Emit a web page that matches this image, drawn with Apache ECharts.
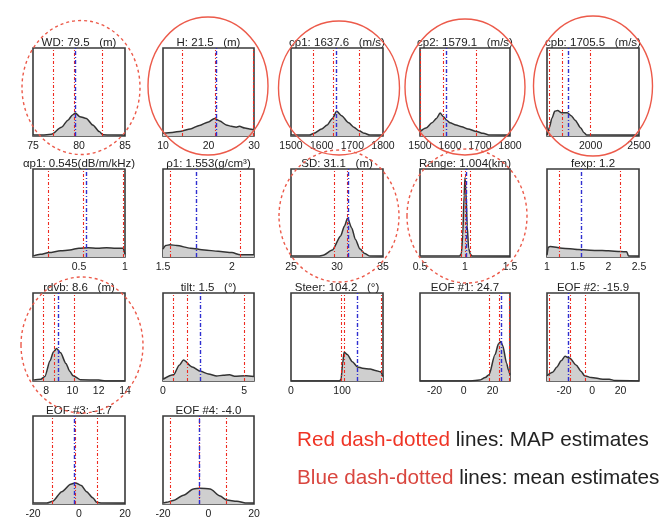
<!DOCTYPE html>
<html>
<head>
<meta charset="utf-8">
<script src="https://cdn.jsdelivr.net/npm/echarts@6/dist/echarts.min.js"></script>
<style>
  html, body { margin: 0; padding: 0; background: #fff; }
  #chart { width: 663px; height: 523px; }
</style>
</head>
<body>
<div id="chart"></div>
<script>
// ---- posterior marginals: titles, axis ranges, tick labels ----
const titles = [
  'WD: 79.5   (m)', 'H: 21.5   (m)', 'cp1: 1637.6   (m/s)', 'cp2: 1579.1   (m/s)', 'cpb: 1705.5   (m/s)',
  'αp1: 0.545(dB/m/kHz)', 'ρ1: 1.553(g/cm³)', 'SD: 31.1   (m)', 'Range: 1.004(km)', 'fexp: 1.2',
  'rdvb: 8.6   (m)', 'tilt: 1.5   (°)', 'Steer: 104.2   (°)', 'EOF #1: 24.7', 'EOF #2: -15.9',
  'EOF #3: -1.7', 'EOF #4: -4.0'
];
const xMin = [75, 10, 1500, 1500, 1550, 0, 1.5, 25, 0.5, 1, 7, 0, 0, -30, -32, -20, -20];
const xMax = [85, 30, 1800, 1800, 2500, 1, 2.16, 35, 1.5, 2.5, 14, 5.6, 180, 32, 33, 20, 20];
const tickValues = [
  [75, 80, 85], [10, 20, 30], [1500, 1600, 1700, 1800], [1500, 1600, 1700, 1800], [2000, 2500],
  [0.5, 1], [1.5, 2], [25, 30, 35], [0.5, 1, 1.5], [1, 1.5, 2, 2.5],
  [8, 10, 12, 14], [0, 5], [0, 100], [-20, 0, 20], [-20, 0, 20],
  [-20, 0, 20], [-20, 0, 20]
];

// MAP estimate and interval bounds (red) and posterior means (blue)
const mapLines = [
  [77.2, 79.5, 82.5], [14.2, 21.5, 29.9], [1571, 1637.6, 1722], [1501, 1579.1, 1689], [1575, 1705.5, 2000],
  [0.175, 0.545, 0.985], [1.553, 2.063], [29.7, 31.1, 32.7], [0.96, 1.004, 1.06], [1.2, 2.2],
  [7.8, 8.6, 10.15], [0.6, 1.5, 5.0], [99, 104.2, 176], [17.5, 24.7, 31.8], [-30.3, -15.9, -4.7],
  [-11.5, -1.7, 8], [-16.6, -4.0, 7.7]
];
const meanLines = [79.6, 21.6, 1649, 1589, 1770, 0.58, 1.738, 31.2, 1.006, 1.56, 8.9, 2.3, 130.5, 25.8, -16.7, -1.9, -4.2];

// ---- marginal densities [value, density] ----
const wdDensity = [[75,0.01],[76,0.01],[77,0.02],[78.1,0.1],[78.8,0.18],[79.3,0.24],[79.6,0.26],[80.1,0.22],[80.8,0.2],[81.5,0.125],[82.2,0.05],[82.6,0.015],[83.5,0.01],[85,0.01]];
const hDensity = [[10,0.03],[12,0.04],[14,0.055],[16,0.08],[18,0.12],[20,0.16],[21.3,0.2],[22.5,0.17],[23.9,0.125],[25,0.11],[26.1,0.1],[26.8,0.11],[28,0.09],[29,0.08],[30,0.07]];
const cp1Density = [[1500,0.01],[1560,0.01],[1575,0.03],[1600,0.08],[1618,0.125],[1635,0.2],[1649,0.28],[1665,0.23],[1688,0.15],[1705,0.1],[1722,0.06],[1740,0.03],[1757,0.01],[1800,0.01]];
const cp2Density = [[1500,0.05],[1520,0.09],[1540,0.15],[1555,0.2],[1567,0.26],[1578,0.22],[1589,0.18],[1600,0.15],[1620,0.125],[1639,0.105],[1660,0.08],[1689,0.05],[1710,0.03],[1733,0.01],[1800,0.01]];
const cpbDensity = [[1552,0.01],[1575,0.1],[1600,0.2],[1630,0.28],[1660,0.29],[1700,0.265],[1760,0.265],[1800,0.23],[1840,0.18],[1900,0.09],[1930,0.04],[1960,0.01],[2500,0.01]];
const alphaDensity = [[0,0.01],[0.08,0.03],[0.175,0.05],[0.3,0.07],[0.4,0.08],[0.5,0.1],[0.6,0.105],[0.7,0.1],[0.8,0.105],[0.9,0.1],[0.98,0.1],[1,0.03]];
const rhoDensity = [[1.5,0.09],[1.52,0.13],[1.55,0.14],[1.6,0.13],[1.7,0.1],[1.8,0.08],[1.9,0.065],[2.0,0.05],[2.06,0.025],[2.16,0.025]];
const sdDensity = [[25,0.01],[28,0.01],[28.5,0.02],[29.5,0.08],[30.4,0.24],[30.8,0.35],[31.15,0.44],[31.6,0.33],[32,0.2],[32.5,0.09],[33,0.04],[33.6,0.01],[35,0.01]];
const rangeDensity = [[0.5,0.01],[0.94,0.01],[0.96,0.04],[0.975,0.25],[0.99,0.7],[1.0,0.9],[1.01,0.75],[1.025,0.35],[1.04,0.1],[1.06,0.03],[1.08,0.01],[1.5,0.01]];
const fexpDensity = [[1,0.02],[1.02,0.11],[1.05,0.12],[1.25,0.1],[1.5,0.085],[1.8,0.075],[2.0,0.07],[2.2,0.062],[2.3,0.06],[2.33,0.01],[2.5,0.01]];
const rdvbDensity = [[7,0.01],[7.6,0.02],[7.9,0.05],[8.3,0.23],[8.55,0.33],[8.8,0.37],[9.1,0.32],[9.5,0.2],[9.8,0.11],[10.05,0.06],[10.6,0.015],[12,0.01],[12.5,0],[14,0]];
const tiltDensity = [[0,0.02],[0.65,0.07],[1.0,0.18],[1.26,0.24],[1.8,0.16],[2.3,0.11],[2.8,0.08],[3.3,0.057],[3.7,0.065],[4.1,0.07],[4.4,0.055],[5.1,0.06],[5.6,0.05]];
const steerDensity = [[0,0],[95,0],[98,0.02],[101,0.2],[104,0.33],[110,0.3],[120,0.22],[130,0.16],[140,0.145],[155,0.135],[165,0.12],[175,0.105],[180,0.05]];
const eof1Density = [[-30,0],[5,0],[11,0.01],[15,0.04],[17.5,0.07],[21.7,0.3],[24,0.42],[25.6,0.45],[27,0.4],[29.7,0.2],[31,0.12],[32,0.07]];
const eof2Density = [[-32,0.06],[-28,0.1],[-25,0.16],[-22,0.23],[-19.3,0.28],[-16,0.26],[-11.3,0.18],[-8,0.11],[-5.4,0.06],[-0.8,0.04],[7.5,0.02],[12,0.02],[16,0.005],[33,0]];
const eof3Density = [[-20,0.01],[-14,0.01],[-11.5,0.03],[-7.5,0.14],[-3.6,0.225],[-1.5,0.24],[1,0.21],[3.3,0.14],[6,0.07],[7.7,0.02],[10,0.01],[20,0.01]];
const eof4Density = [[-20,0.01],[-18.4,0.02],[-15.5,0.04],[-11,0.1],[-6.6,0.17],[-3.7,0.18],[0.7,0.17],[5.1,0.09],[8,0.045],[12.5,0.03],[16.9,0.01],[20,0.01]];

const densities = [wdDensity, hDensity, cp1Density, cp2Density, cpbDensity,
  alphaDensity, rhoDensity, sdDensity, rangeDensity, fexpDensity,
  rdvbDensity, tiltDensity, steerDensity, eof1Density, eof2Density,
  eof3Density, eof4Density];

// ---- layout of the 5-column panel grid ----
const colLeft = [33, 163, 291, 420, 547];
const colWidth = [92, 91, 92, 90, 92];
const rowTop = [48, 169, 293, 416];
const panelH = 88;
const FONT = '"Liberation Sans", Arial, sans-serif';
const RED = '#ee2a20';
const BLUE = '#2f2fd0';
const RING = '#ec5a4a';

function panelBox(i) {
  const r = Math.floor(i / 5), c = i % 5;
  return { left: colLeft[c], top: rowTop[r], width: colWidth[c], height: panelH };
}

const grids = [], xAxes = [], yAxes = [], series = [], graphics = [];

densities.forEach((d, i) => {
  const b = panelBox(i);
  grids.push({ left: b.left, top: b.top, width: b.width, height: b.height,
    show: true, borderColor: '#3a3a3a', borderWidth: 1.6, backgroundColor: '#fff' });
  xAxes.push({
    type: 'value', gridIndex: i, min: xMin[i], max: xMax[i],
    axisLine: { show: false }, axisTick: { show: false }, splitLine: { show: false },
    axisLabel: { customValues: tickValues[i], margin: 5, fontSize: 10.5, color: '#222', fontFamily: FONT,
      showMinLabel: true, showMaxLabel: true, formatter: v => String(v) }
  });
  yAxes.push({ type: 'value', gridIndex: i, min: 0, max: 1, show: false });

  const lines = mapLines[i].map(v => ({ xAxis: v, lineStyle: { color: RED, width: 1.1, type: [3, 2, 1, 2] } }));
  lines.push({ xAxis: meanLines[i], lineStyle: { color: BLUE, width: 1.4, type: [4, 2, 1, 2] } });

  series.push({
    type: 'line', xAxisIndex: i, yAxisIndex: i, data: d,
    showSymbol: false, smooth: 0.25, smoothMonotone: 'x', silent: true,
    lineStyle: { color: '#333', width: 1.5 },
    areaStyle: { color: '#cfcfcf', opacity: 1 },
    markLine: { symbol: 'none', silent: true, label: { show: false }, animation: false, data: lines }
  });

  graphics.push({
    type: 'text', x: b.left + b.width / 2, y: b.top - 5, z: 10,
    style: { text: titles[i], font: '11.5px ' + FONT, fill: '#222', align: 'center', verticalAlign: 'middle' }
  });
});

// rings drawn round selected panels (solid and dashed)
const rings = [
  { p: 0, dash: true, dx: 2, dy: -4.5, rx: 59, ry: 67 },
  { p: 1, dash: false, dx: -0.5, dy: -6, rx: 60, ry: 69 },
  { p: 2, dash: false, dx: 2, dy: -4, rx: 60.5, ry: 67 },
  { p: 3, dash: false, dx: 0, dy: -5, rx: 60, ry: 68 },
  { p: 4, dash: false, dx: 0, dy: -6, rx: 59.5, ry: 70 },
  { p: 7, dash: true, dx: 2, dy: 3, rx: 60, ry: 66 },
  { p: 8, dash: true, dx: 2, dy: 3, rx: 60, ry: 67 },
  { p: 10, dash: true, dx: 3, dy: 8, rx: 61, ry: 68 }
];
rings.forEach(r => {
  const b = panelBox(r.p);
  graphics.push({
    type: 'ellipse', z: 20, silent: true,
    shape: { cx: b.left + b.width / 2 + r.dx, cy: b.top + b.height / 2 + r.dy, rx: r.rx, ry: r.ry },
    style: { fill: 'none', stroke: RING, lineWidth: 1.4, lineDash: r.dash ? [3, 3] : null }
  });
});

// explanatory note about line colours
graphics.push({
  type: 'text', x: 297, y: 440, z: 10,
  style: {
    text: '{r|Red dash-dotted}{k| lines: MAP estimates}', verticalAlign: 'middle',
    rich: { r: { fill: '#ef3425', font: '20.7px ' + FONT }, k: { fill: '#222', font: '20.7px ' + FONT } }
  }
});
graphics.push({
  type: 'text', x: 297, y: 478, z: 10,
  style: {
    text: '{b|Blue dash-dotted}{k| lines: mean estimates}', verticalAlign: 'middle',
    rich: { b: { fill: '#d9463f', font: '20.7px ' + FONT }, k: { fill: '#222', font: '20.7px ' + FONT } }
  }
});

const chart = echarts.init(document.getElementById('chart'), null, { renderer: 'canvas' });
chart.setOption({
  animation: false,
  backgroundColor: '#ffffff',
  grid: grids, xAxis: xAxes, yAxis: yAxes, series: series, graphic: graphics
});
</script>
</body>
</html>
